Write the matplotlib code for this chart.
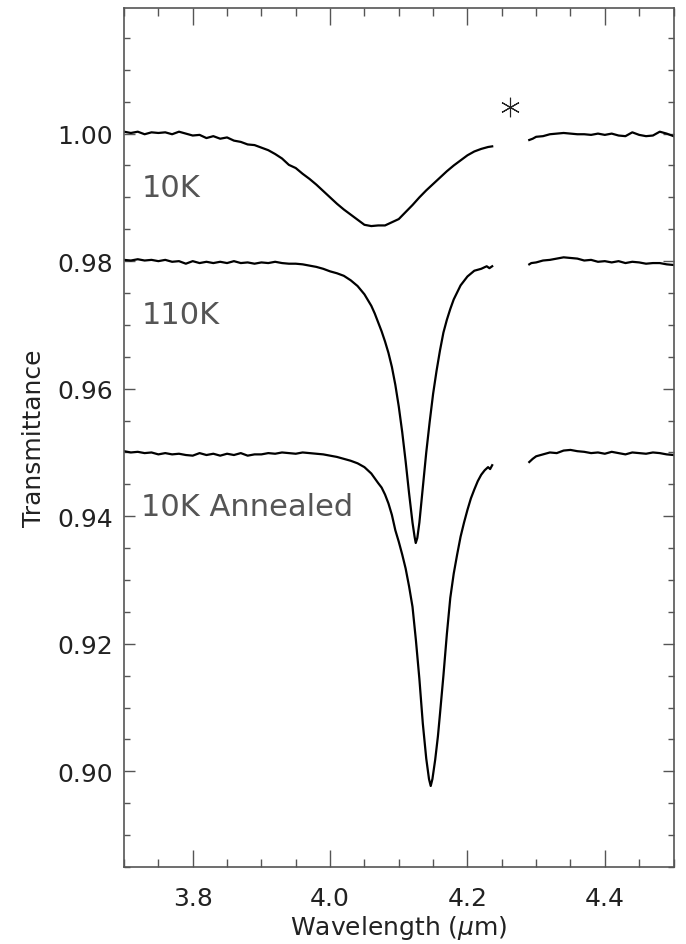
# Transmittance spectra of the three ice samples, offset for clarity
import numpy as np
import matplotlib.pyplot as plt
from matplotlib.ticker import MultipleLocator

# 10K spectrum (nan marks the gap around the atmospheric CO2 band)
wl_10k = [3.700, 3.710, 3.720, 3.730, 3.740, 3.750, 3.760, 3.770, 3.780, 3.790,
          3.800, 3.810, 3.820, 3.830, 3.840, 3.850, 3.860, 3.870, 3.880, 3.890,
          3.900, 3.910, 3.920, 3.930, 3.940, 3.950, 3.960, 3.970, 3.980, 3.990,
          4.000, 4.010, 4.020, 4.030, 4.040, 4.050, 4.060, 4.070, 4.080, 4.090,
          4.100, 4.110, 4.120, 4.130, 4.140, 4.150, 4.160, 4.170, 4.180, 4.190,
          4.200, 4.210, 4.220, 4.230, 4.236, np.nan,
          4.290, 4.295, 4.300, 4.310, 4.320, 4.330, 4.340, 4.350, 4.360, 4.370,
          4.380, 4.390, 4.400, 4.410, 4.420, 4.430, 4.440, 4.450, 4.460, 4.470,
          4.480, 4.490, 4.500]
tr_10k = [1.0003, 1.0001, 1.0003, 0.9999, 1.0002, 1.0001, 1.0002, 0.9999, 1.0003, 1.0000,
          0.9997, 0.9998, 0.9993, 0.9996, 0.9992, 0.9994, 0.9989, 0.9987, 0.9983, 0.9982,
          0.9978, 0.9974, 0.9968, 0.9961, 0.9951, 0.9946, 0.9937, 0.9929, 0.9920, 0.9910,
          0.9900, 0.9890, 0.9881, 0.9873, 0.9865, 0.9857, 0.9855, 0.9856, 0.9856, 0.9861,
          0.9866, 0.9877, 0.9888, 0.9900, 0.9911, 0.9921, 0.9931, 0.9941, 0.9950, 0.9958,
          0.9966, 0.9972, 0.9976, 0.9979, 0.9980, np.nan,
          0.9990, 0.9992, 0.9995, 0.9996, 0.9999, 1.0000, 1.0001, 1.0000, 0.9999, 0.9999,
          0.9998, 1.0000, 0.9998, 1.0000, 0.9997, 0.9996, 1.0002, 0.9998, 0.9996, 0.9997,
          1.0003, 1.0000, 0.9996]

# 110K spectrum
wl_110k = [3.700, 3.710, 3.720, 3.730, 3.740, 3.750, 3.760, 3.770, 3.780, 3.790,
           3.800, 3.810, 3.820, 3.830, 3.840, 3.850, 3.860, 3.870, 3.880, 3.890,
           3.900, 3.910, 3.920, 3.930, 3.940, 3.950, 3.960, 3.970, 3.980, 3.990,
           4.000, 4.010, 4.020, 4.030, 4.040, 4.050, 4.060, 4.065, 4.070, 4.075,
           4.080, 4.085, 4.090, 4.095, 4.100, 4.105, 4.110, 4.115, 4.120, 4.123,
           4.1247, 4.127, 4.130, 4.135, 4.140, 4.145, 4.150, 4.155, 4.160, 4.165,
           4.170, 4.175, 4.180, 4.190, 4.200, 4.210, 4.220, 4.228, 4.232, 4.236, np.nan,
           4.290, 4.293, 4.300, 4.310, 4.320, 4.330, 4.340, 4.350, 4.360, 4.370,
           4.380, 4.390, 4.400, 4.410, 4.420, 4.430, 4.440, 4.450, 4.460, 4.470,
           4.480, 4.490, 4.500]
tr_110k = [0.9802, 0.9801, 0.9803, 0.9801, 0.9802, 0.9800, 0.9802, 0.9799, 0.9800, 0.9796,
           0.9800, 0.9797, 0.9799, 0.9797, 0.9799, 0.9797, 0.9800, 0.9797, 0.9798, 0.9796,
           0.9798, 0.9797, 0.9799, 0.9797, 0.9796, 0.9796, 0.9795, 0.9793, 0.9791, 0.9788,
           0.9784, 0.9781, 0.9777, 0.9770, 0.9761, 0.9748, 0.9730, 0.9718, 0.9704, 0.9690,
           0.9674, 0.9656, 0.9634, 0.9606, 0.9572, 0.9532, 0.9486, 0.9436, 0.9390, 0.9368,
           0.9358, 0.9366, 0.9390, 0.9445, 0.9500, 0.9548, 0.9592, 0.9628, 0.9660, 0.9688,
           0.9708, 0.9725, 0.9740, 0.9762, 0.9776, 0.9785, 0.9788, 0.9792, 0.9789, 0.9792, np.nan,
           0.9795, 0.9797, 0.9798, 0.9801, 0.9802, 0.9804, 0.9806, 0.9805, 0.9804, 0.9801,
           0.9802, 0.9799, 0.9800, 0.9798, 0.9800, 0.9797, 0.9799, 0.9798, 0.9796, 0.9797,
           0.9797, 0.9795, 0.9794]

# 10K annealed spectrum
wl_ann = [3.700, 3.710, 3.720, 3.730, 3.740, 3.750, 3.760, 3.770, 3.780, 3.790,
          3.800, 3.810, 3.820, 3.830, 3.840, 3.850, 3.860, 3.870, 3.880, 3.890,
          3.900, 3.910, 3.920, 3.930, 3.940, 3.950, 3.960, 3.970, 3.980, 3.990,
          4.000, 4.010, 4.020, 4.030, 4.040, 4.050, 4.060, 4.070, 4.075, 4.080,
          4.085, 4.090, 4.095, 4.100, 4.105, 4.110, 4.115, 4.120, 4.125, 4.130,
          4.135, 4.140, 4.144, 4.1465, 4.149, 4.153, 4.157, 4.160, 4.165, 4.170,
          4.175, 4.180, 4.185, 4.190, 4.195, 4.200, 4.205, 4.210, 4.215, 4.220,
          4.225, 4.230, 4.233, 4.236, np.nan,
          4.290, 4.295, 4.300, 4.310, 4.320, 4.330, 4.340, 4.350, 4.360, 4.370,
          4.380, 4.390, 4.400, 4.410, 4.420, 4.430, 4.440, 4.450, 4.460, 4.470,
          4.480, 4.490, 4.500]
tr_ann = [0.9502, 0.9500, 0.9501, 0.9499, 0.9500, 0.9497, 0.9499, 0.9497, 0.9498, 0.9496,
          0.9495, 0.9499, 0.9496, 0.9498, 0.9495, 0.9498, 0.9496, 0.9499, 0.9495, 0.9497,
          0.9497, 0.9499, 0.9498, 0.9500, 0.9499, 0.9498, 0.9500, 0.9499, 0.9498, 0.9497,
          0.9495, 0.9493, 0.9490, 0.9487, 0.9483, 0.9477, 0.9467, 0.9452, 0.9445, 0.9434,
          0.9420, 0.9402, 0.9378, 0.9360, 0.9340, 0.9318, 0.9290, 0.9258, 0.9205, 0.9145,
          0.9075, 0.9020, 0.8988, 0.8977, 0.8988, 0.9018, 0.9055, 0.9090, 0.9150, 0.9215,
          0.9272, 0.9310, 0.9340, 0.9368, 0.9390, 0.9410, 0.9428, 0.9442, 0.9455, 0.9465,
          0.9472, 0.9477, 0.9474, 0.9480, np.nan,
          0.9485, 0.9490, 0.9494, 0.9497, 0.9500, 0.9499, 0.9503, 0.9504, 0.9502, 0.9501,
          0.9499, 0.9500, 0.9498, 0.9501, 0.9499, 0.9497, 0.9500, 0.9499, 0.9498, 0.9500,
          0.9499, 0.9497, 0.9496]

curve_labels = ['10K', '110K', '10K Annealed']

fig = plt.figure(figsize=(6.86, 9.45), dpi=100)
ax = fig.add_axes([0.1808, 0.0815, 0.8010, 0.9090])

# the three spectra
for wl, tr in [(wl_10k, tr_10k), (wl_110k, tr_110k), (wl_ann, tr_ann)]:
    ax.plot(wl, tr, color='black', linewidth=1.6, solid_joinstyle='round')

# asterisk over the gap
ax.plot([4.262], [1.0042], marker=(6, 2, 0), markersize=14, markeredgewidth=0.8,
        color='#222222', linestyle='none')

# labels next to each curve
label_y = [0.9915, 0.9716, 0.9416]
for lab, yy in zip(curve_labels, label_y):
    ax.text(3.725, yy, lab, fontsize=22, color='#555555', ha='left', va='center')

ax.set_xlim(3.7, 4.5)
ax.set_ylim(0.885, 1.0197)

ax.xaxis.set_major_locator(MultipleLocator(0.2))
ax.xaxis.set_minor_locator(MultipleLocator(0.05))
ax.yaxis.set_major_locator(MultipleLocator(0.02))
ax.yaxis.set_minor_locator(MultipleLocator(0.005))
ax.xaxis.set_major_formatter(lambda v, p: '%.1f' % v)
ax.yaxis.set_major_formatter(lambda v, p: '%.2f' % v)

ax.tick_params(axis='x', which='major', direction='in', length=12, width=1,
               top=True, pad=14, labelsize=18, color='#555555', labelcolor='#222222')
ax.tick_params(axis='x', which='minor', direction='in', length=6, width=1,
               top=True, color='#555555')
ax.tick_params(axis='y', which='major', direction='in', length=8, width=1,
               right=True, pad=8, labelsize=18, color='#555555', labelcolor='#222222')
ax.tick_params(axis='y', which='minor', direction='in', length=4, width=1,
               right=True, color='#555555')
for sp in ax.spines.values():
    sp.set_color('#555555')
    sp.set_linewidth(1.2)

ax.set_xlabel(r'Wavelength ($\mu$m)', fontsize=18, color='#222222', labelpad=2)
ax.set_ylabel('Transmittance', fontsize=18, color='#222222', labelpad=8)

fig.savefig('out.png', dpi=100)
